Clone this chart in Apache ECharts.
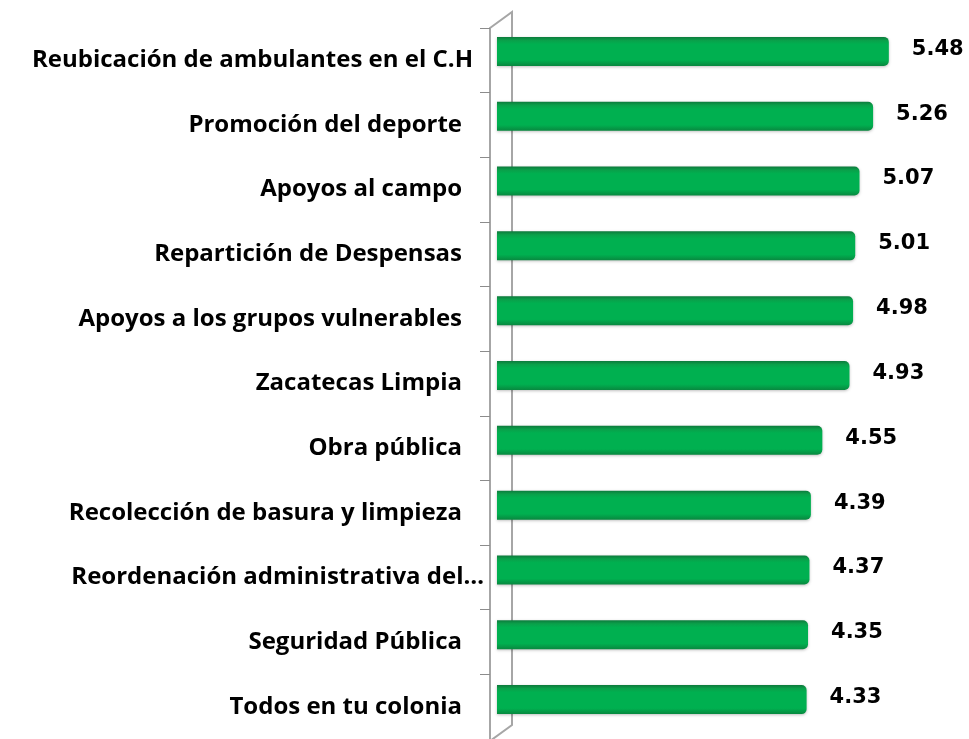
<!DOCTYPE html>
<html>
<head>
<meta charset="utf-8">
<script src="https://cdn.jsdelivr.net/npm/echarts@6/dist/echarts.min.js"></script>
<style>
  html, body { margin: 0; padding: 0; background: #fff; }
  #chart { width: 969px; height: 739px; }
</style>
</head>
<body>
<div id="chart"></div>
<script>
// categorias (de arriba hacia abajo) y calificaciones
var categorias = [
    'Reubicación de ambulantes en el C.H',
    'Promoción del deporte',
    'Apoyos al campo',
    'Repartición de Despensas',
    'Apoyos a los grupos vulnerables',
    'Zacatecas Limpia',
    'Obra pública',
    'Recolección de basura y limpieza',
    'Reordenación administrativa del…',
    'Seguridad Pública',
    'Todos en tu colonia'
];
var calificaciones = [5.48, 5.26, 5.07, 5.01, 4.98, 4.93, 4.55, 4.39, 4.37, 4.35, 4.33];
var ejeMin = 0;
var ejeMax = 6;

var fuente = '"Open Sans", "DejaVu Sans", sans-serif';
var fuenteValores = '"DejaVu Sans", sans-serif';
var chart = echarts.init(document.getElementById('chart'));

// degradado del cuerpo de la barra (efecto 3D)
var verde = new echarts.graphic.LinearGradient(0, 0, 0, 1, [
    { offset: 0, color: '#0d7a3c' },
    { offset: 0.12, color: '#0aa04a' },
    { offset: 0.25, color: '#00b050' },
    { offset: 0.8, color: '#00b050' },
    { offset: 1, color: '#08883f' }
]);

var option = {
    animation: false,
    grid: [
        { left: 490, top: 28, width: 436, height: 713 },   // pared frontal con etiquetas
        { left: 497, top: 19, width: 429, height: 713 }    // barras
    ],
    xAxis: [
        { gridIndex: 0, type: 'value', min: ejeMin, max: ejeMax, show: false },
        { gridIndex: 1, type: 'value', min: ejeMin, max: ejeMax, show: false }
    ],
    yAxis: [{
        gridIndex: 0,
        type: 'category',
        inverse: true,
        data: categorias,
        axisLine: { show: true, lineStyle: { color: '#a6a6a6', width: 2 } },
        axisTick: { show: true, length: 10, lineStyle: { color: '#8c8c8c', width: 1 } },
        axisLabel: {
            margin: 6,
            // las etiquetas largas sobresalen un poco hacia la derecha
            formatter: function (v) {
                var extra = 22;
                if (v.indexOf('Reordenación') === 0) extra = 0;
                else if (v.indexOf('Reubicación') === 0) extra = 11;
                return '{t|' + v + '}{s' + extra + '|}';
            },
            rich: {
                t: { fontFamily: fuente, fontWeight: 'bold', fontSize: 24, color: '#000' },
                s0: { width: 0 },
                s11: { width: 11 },
                s22: { width: 22 }
            }
        }
    }, {
        gridIndex: 1,
        type: 'category',
        inverse: true,
        data: categorias,
        show: false
    }],
    graphic: [{
        type: 'polyline',
        silent: true,
        z: 0,
        shape: { points: [[490, 28], [512, 12], [512, 725], [490, 741]] },
        style: { stroke: '#a6a6a6', lineWidth: 2, fill: null }
    }],
    series: [{
        type: 'bar',
        xAxisIndex: 1,
        yAxisIndex: 1,
        data: calificaciones,
        barWidth: 29,
        itemStyle: {
            color: verde,
            borderRadius: [0, 5, 5, 0],
            shadowColor: 'rgba(0,0,0,0.25)',
            shadowBlur: 3,
            shadowOffsetY: 1
        },
        label: {
            show: true,
            position: 'right',
            distance: 23,
            offset: [0, -2],
            fontFamily: fuenteValores,
            fontWeight: 'bold',
            fontSize: 21,
            color: '#000',
            formatter: function (p) { return p.value.toFixed(2); }
        }
    }]
};

chart.setOption(option);
</script>
</body>
</html>
